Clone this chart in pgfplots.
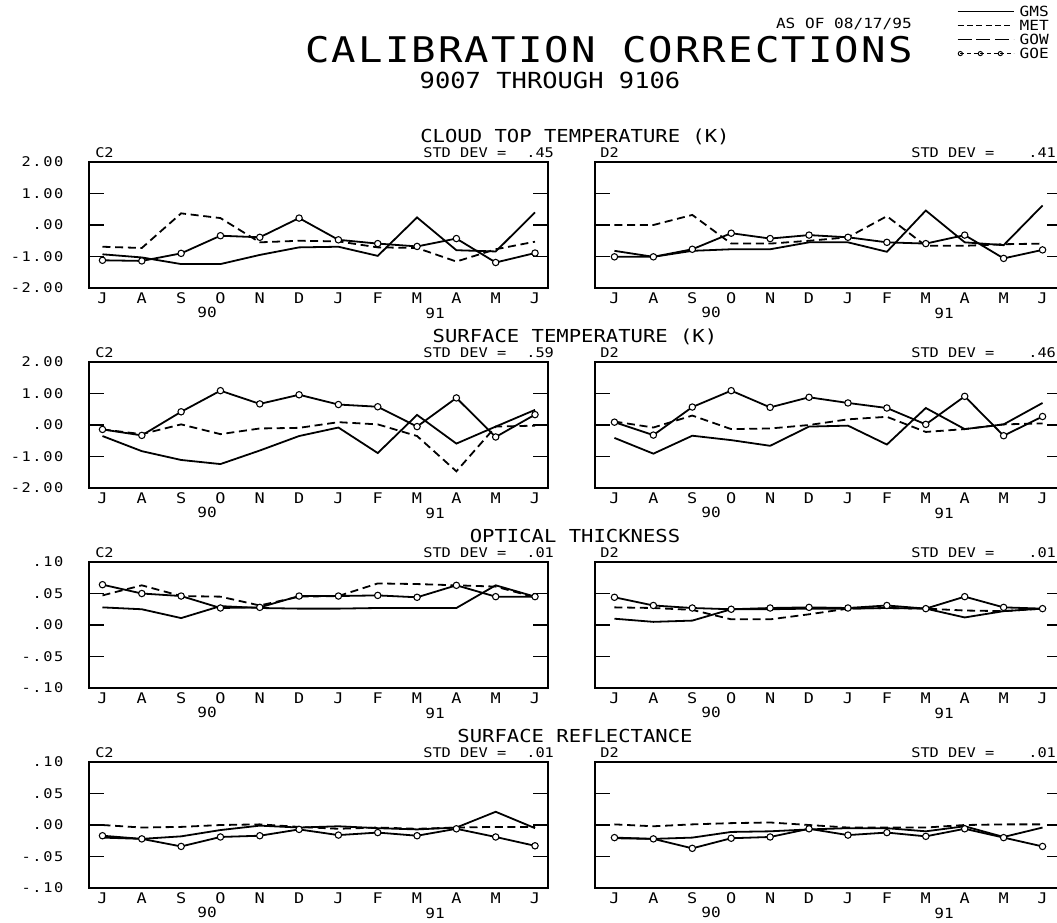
\documentclass[border=0pt]{standalone}
\usepackage{fontspec}
\setmainfont{DejaVu Sans Mono}[FakeStretch=1.15]
\newfontfamily\tickfont{DejaVu Sans Mono}[FakeStretch=1.15, LetterSpace=12]
\newfontfamily\titlefont{DejaVu Sans Mono}[FakeStretch=1.15, LetterSpace=6]
\usepackage{pgfplots}
\usepackage{pgfplotstable}
\pgfplotsset{compat=1.18}

% monthly corrections, July 1990 (m=0) through June 1991 (m=11)
\pgfplotstableread{
m gms met goe
0 -0.93 -0.69 -1.12
1 -1.03 -0.73 -1.14
2 -1.24 0.37 -0.90
3 -1.24 0.22 -0.34
4 -0.95 -0.55 -0.39
5 -0.71 -0.50 0.22
6 -0.69 -0.52 -0.47
7 -0.98 -0.71 -0.59
8 0.24 -0.73 -0.68
9 -0.80 -1.16 -0.43
10 -0.84 -0.77 -1.19
11 0.40 -0.53 -0.89
}\ctC
\pgfplotstableread{
m gms met goe
0 -0.82 0.00 -1.01
1 -1.01 0.00 -1.01
2 -0.82 0.32 -0.77
3 -0.77 -0.59 -0.26
4 -0.77 -0.59 -0.43
5 -0.55 -0.50 -0.32
6 -0.55 -0.39 -0.39
7 -0.85 0.28 -0.55
8 0.46 -0.66 -0.59
9 -0.55 -0.66 -0.32
10 -0.64 -0.61 -1.06
11 0.62 -0.59 -0.79
}\ctD
\pgfplotstableread{
m gms met goe
0 -0.35 -0.14 -0.14
1 -0.83 -0.29 -0.33
2 -1.11 0.02 0.42
3 -1.24 -0.29 1.09
4 -0.81 -0.11 0.67
5 -0.35 -0.09 0.96
6 -0.08 0.09 0.65
7 -0.89 0.02 0.58
8 0.32 -0.35 -0.05
9 -0.59 -1.47 0.86
10 -0.05 -0.05 -0.38
11 0.48 -0.02 0.33
}\stC
\pgfplotstableread{
m gms met goe
0 -0.41 0.11 0.09
1 -0.91 -0.08 -0.32
2 -0.34 0.30 0.57
3 -0.48 -0.13 1.09
4 -0.66 -0.11 0.56
5 -0.05 0.00 0.88
6 -0.02 0.18 0.70
7 -0.62 0.26 0.54
8 0.54 -0.22 0.02
9 -0.13 -0.13 0.91
10 0.02 0.02 -0.34
11 0.70 0.05 0.27
}\stD
\pgfplotstableread{
m gms met goe
0 0.028 0.047 0.064
1 0.025 0.063 0.050
2 0.011 0.046 0.046
3 0.030 0.045 0.027
4 0.027 0.031 0.028
5 0.026 0.045 0.046
6 0.026 0.046 0.046
7 0.027 0.066 0.047
8 0.027 0.065 0.044
9 0.027 0.063 0.063
10 0.063 0.061 0.045
11 0.045 0.044 0.045
}\otC
\pgfplotstableread{
m gms met goe
0 0.010 0.028 0.044
1 0.005 0.027 0.031
2 0.007 0.024 0.027
3 0.025 0.009 0.025
4 0.025 0.009 0.027
5 0.026 0.017 0.028
6 0.026 0.026 0.027
7 0.027 0.027 0.031
8 0.026 0.026 0.026
9 0.012 0.023 0.045
10 0.022 0.022 0.028
11 0.026 0.026 0.026
}\otD
\pgfplotstableread{
m gms met goe
0 -0.020 0.000 -0.017
1 -0.022 -0.004 -0.022
2 -0.018 -0.003 -0.034
3 -0.008 0.000 -0.019
4 -0.001 0.001 -0.017
5 -0.004 -0.003 -0.007
6 -0.002 -0.006 -0.016
7 -0.005 -0.004 -0.012
8 -0.007 -0.006 -0.017
9 -0.004 -0.004 -0.006
10 0.021 -0.003 -0.019
11 -0.005 -0.003 -0.033
}\srC
\pgfplotstableread{
m gms met goe
0 -0.021 0.001 -0.020
1 -0.022 -0.002 -0.022
2 -0.020 0.001 -0.037
3 -0.011 0.003 -0.021
4 -0.010 0.004 -0.019
5 -0.007 0.000 -0.006
6 -0.005 -0.004 -0.016
7 -0.005 -0.004 -0.012
8 -0.010 -0.004 -0.018
9 -0.002 0.000 -0.006
10 -0.019 0.001 -0.020
11 -0.004 0.001 -0.034
}\srD

\pgfplotsset{
  panel/.style={
    scale only axis, height=94.5pt, anchor=north west,
    axis line style={line width=1.4pt},
    tick align=inside, major tick length=11.25pt,
    ytick pos=both, yticklabel pos=left,
    ytick style={line width=1.4pt, black},
    xtick style={draw=none},
    xtick={0,...,11},
    xticklabels={J,A,S,O,N,D,J,F,M,A,M,J},
    xticklabel style={font=\fontsize{11}{11}\selectfont, anchor=base, inner sep=0pt, yshift=-11.6pt},
    yticklabel style={font=\tickfont\fontsize{10}{10}\selectfont, anchor=east, inner sep=0pt, xshift=-19pt},
  },
  leftpanel/.style={panel, width=344.25pt, xmin=-0.343, xmax=11.33},
  rightpanel/.style={panel, width=350.25pt, xmin=-0.5, xmax=11.5, yticklabels={}},
  temp/.style={ymin=-2, ymax=2, ytick={-2,-1,0,1,2}, yticklabels={-2.00,-1.00,.00,1.00,2.00}},
  frac/.style={ymin=-0.1, ymax=0.1, ytick={-0.1,-0.05,0,0.05,0.1}, yticklabels={-.10,-.05,.00,.05,.10}},
  gms/.style={black, line width=1.35pt, mark=none},
  met/.style={black, line width=1.35pt, dash pattern=on 6pt off 3.5pt, mark=none},
  goe/.style={black, line width=1.35pt, mark=*, mark size=2.4pt, mark options={solid, fill=white, line width=0.8pt}},
  legline/.style={legend image code/.code={\draw[##1] (0pt,0pt) -- (42pt,0pt);}},
  legmark/.style={legend image code/.code={\draw[##1, mark indices={1,2,3}] plot coordinates {(2pt,0pt) (17pt,0pt) (32pt,0pt) (42pt,0pt)};}},
}

\begin{document}
\begin{tikzpicture}
\path[use as bounding box] (0pt,0pt) rectangle (792.75pt,-691.5pt);

% ---- cloud top temperature
\begin{axis}[temp, leftpanel, at={(66.75pt,-121.5pt)}]
  \addplot[gms] table[x=m, y=gms] {\ctC};
  \addplot[met] table[x=m, y=met] {\ctC};
  \addplot[goe] table[x=m, y=goe] {\ctC};
\end{axis}
\begin{axis}[temp, rightpanel, at={(446.25pt,-121.5pt)}]
  \addplot[gms] table[x=m, y=gms] {\ctD};
  \addplot[met] table[x=m, y=met] {\ctD};
  \addplot[goe] table[x=m, y=goe] {\ctD};
\end{axis}
% ---- surface temperature
\begin{axis}[temp, leftpanel, at={(66.75pt,-271.5pt)}]
  \addplot[gms] table[x=m, y=gms] {\stC};
  \addplot[met] table[x=m, y=met] {\stC};
  \addplot[goe] table[x=m, y=goe] {\stC};
\end{axis}
\begin{axis}[temp, rightpanel, at={(446.25pt,-271.5pt)}]
  \addplot[gms] table[x=m, y=gms] {\stD};
  \addplot[met] table[x=m, y=met] {\stD};
  \addplot[goe] table[x=m, y=goe] {\stD};
\end{axis}
% ---- optical thickness
\begin{axis}[frac, leftpanel, at={(66.75pt,-421.5pt)}]
  \addplot[gms] table[x=m, y=gms] {\otC};
  \addplot[met] table[x=m, y=met] {\otC};
  \addplot[goe] table[x=m, y=goe] {\otC};
\end{axis}
\begin{axis}[frac, rightpanel, at={(446.25pt,-421.5pt)}]
  \addplot[gms] table[x=m, y=gms] {\otD};
  \addplot[met] table[x=m, y=met] {\otD};
  \addplot[goe] table[x=m, y=goe] {\otD};
\end{axis}
% ---- surface reflectance
\begin{axis}[frac, leftpanel, at={(66.75pt,-571.5pt)}]
  \addplot[gms] table[x=m, y=gms] {\srC};
  \addplot[met] table[x=m, y=met] {\srC};
  \addplot[goe] table[x=m, y=goe] {\srC};
\end{axis}
\begin{axis}[frac, rightpanel, at={(446.25pt,-571.5pt)}]
  \addplot[gms] table[x=m, y=gms] {\srD};
  \addplot[met] table[x=m, y=met] {\srD};
  \addplot[goe] table[x=m, y=goe] {\srD};
\end{axis}

% ---- legend
\begin{axis}[hide axis, scale only axis, at={(0pt,0pt)}, anchor=north west,
  width=792.75pt, height=691.5pt, xmin=0, xmax=1, ymin=0, ymax=1,
  legend cell align=left,
  legend style={at={(0.9054,0.993)}, anchor=north west, draw=none, fill=none,
    inner sep=0pt, outer sep=0pt, font=\fontsize{10.5}{10.5}\selectfont,
    row sep=2.8pt, nodes={inner sep=0pt, text height=7.7pt, text depth=0pt},
    /tikz/every odd column/.append style={column sep=4pt}}]
  \addlegendimage{legline, black, line width=1pt}
  \addlegendentry{GMS}
  \addlegendimage{legline, black, line width=1pt, dash pattern=on 4.5pt off 2.5pt}
  \addlegendentry{MET}
  \addlegendimage{legline, black, line width=1pt, dash pattern=on 10.5pt off 3.5pt}
  \addlegendentry{GOW}
  \addlegendimage{legmark, black, line width=0.7pt, dash pattern=on 3pt off 2pt, mark=o, mark size=1.6pt, mark options={solid}}
  \addlegendentry{GOE}
\end{axis}

\begin{scope}[x=0.75pt, y=-0.75pt]
  % headings
  \node[anchor=base east, inner sep=0pt, font=\fontsize{10.5}{11}\selectfont] at (912,28) {AS OF 08/17/95};
  \node[anchor=base, inner sep=0pt, font=\titlefont\fontsize{26.5}{27}\selectfont] at (609,62) {CALIBRATION CORRECTIONS};
  \node[anchor=base, inner sep=0pt, font=\fontsize{16.6}{17}\selectfont] at (550,88) {9007 THROUGH 9106};
  % panel titles
  \begin{scope}[every node/.style={anchor=base, inner sep=0pt, font=\fontsize{13.4}{14}\selectfont}]
    \node at (575,142) {CLOUD TOP TEMPERATURE (K)};
    \node at (575,342) {SURFACE TEMPERATURE (K)};
    \node at (575,542) {OPTICAL THICKNESS};
    \node at (575,742) {SURFACE REFLECTANCE};
  \end{scope}
  % channel names and standard deviations
  \begin{scope}[every node/.style={anchor=base west, inner sep=0pt, font=\fontsize{10}{10}\selectfont}]
    \foreach \yy/\sl/\sr in {157/.45/.41, 357/.59/.46, 557/.01/.01, 757/.01/.01}{
      \node at (95,\yy) {C2};
      \node at (600,\yy) {D2};
      \node at (423,\yy) {STD DEV =};
      \node at (526,\yy) {\sl};
      \node at (911,\yy) {STD DEV =};
      \node at (1028,\yy) {\sr};
    }
  \end{scope}
  % years under the month axes
  \begin{scope}[every node/.style={anchor=base, inner sep=0pt, font=\fontsize{10.5}{11}\selectfont}]
    \foreach \yy in {317,517,717,917}{
      \node at (207,\yy) {90};
      \node at (711,\yy) {90};
      \node at (435,\yy+1.5) {91};
      \node at (944,\yy+1.5) {91};
    }
  \end{scope}
\end{scope}
\end{tikzpicture}
\end{document}
